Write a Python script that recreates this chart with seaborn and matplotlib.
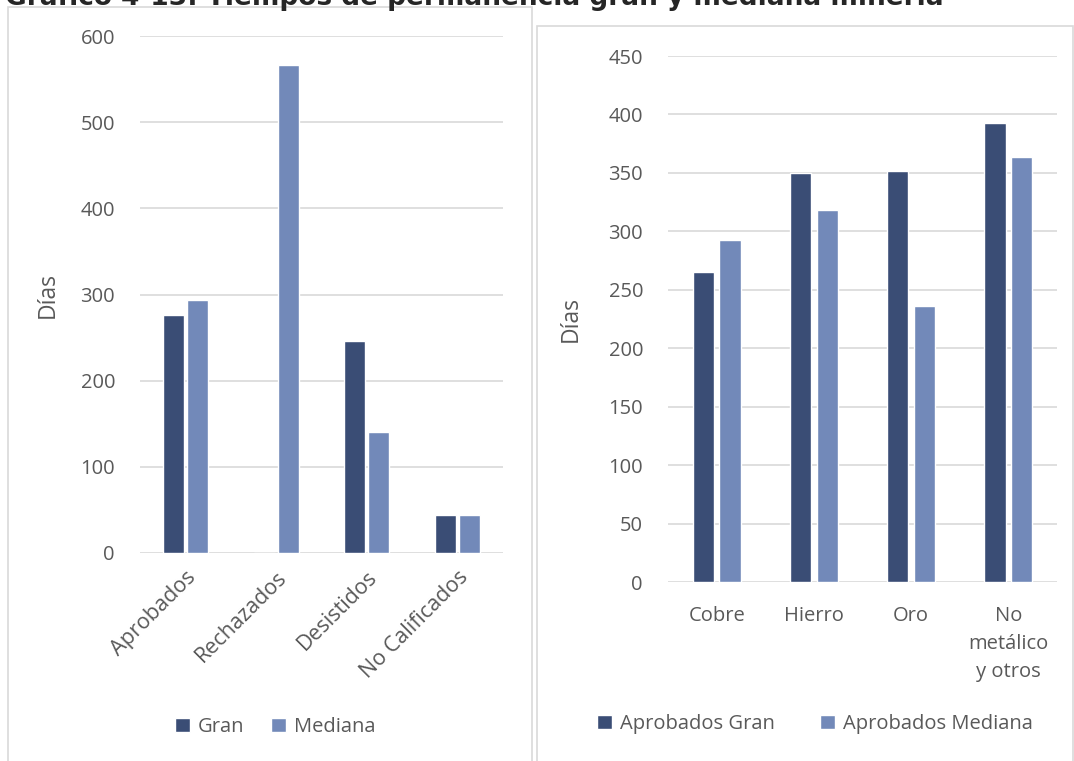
import numpy as np
import pandas as pd
import matplotlib
matplotlib.use("Agg")
import matplotlib.pyplot as plt
import seaborn as sns
from matplotlib.patches import Rectangle

# data
estados = ['Aprobados', 'Rechazados', 'Desistidos', 'No Calificados']
gran_estado = [276, 0, 246, 44]
mediana_estado = [294, 566, 141, 44]

minerales = ['Cobre', 'Hierro', 'Oro', 'No\nmetálico\ny otros']
aprob_gran = [265, 350, 352, 393]
aprob_mediana = [293, 318, 236, 364]

dark = '#3A4D75'
light = '#7289B9'
txt = '#595959'
grid = '#D9D9D9'

sns.set_theme(style='white')
plt.rcParams['font.family'] = ['Open Sans', 'DejaVu Sans']

df_left = pd.DataFrame({
    'cat': estados * 2,
    'dias': gran_estado + mediana_estado,
    'serie': ['Gran'] * 4 + ['Mediana'] * 4,
})
df_right = pd.DataFrame({
    'cat': minerales * 2,
    'dias': aprob_gran + aprob_mediana,
    'serie': ['Aprobados Gran'] * 4 + ['Aprobados Mediana'] * 4,
})

fig = plt.figure(figsize=(10.74, 7.61), dpi=100)
W, H = 1074, 761

def px_axes(x0, y0, x1, y1):
    return fig.add_axes([x0 / W, 1 - y1 / H, (x1 - x0) / W, (y1 - y0) / H])

# panel frames
fig.patches.append(Rectangle((8 / W, -0.01), (532 - 8) / W, 1 - 7 / H + 0.01,
                             transform=fig.transFigure, fill=False,
                             edgecolor=grid, lw=1.2))
fig.patches.append(Rectangle((537 / W, -0.01), (1073 - 537) / W, 1 - 26 / H + 0.01,
                             transform=fig.transFigure, fill=False,
                             edgecolor=grid, lw=1.2))

# title is cropped at the top in the source picture
fig.text(5 / W, 1 - 5 / H, 'Gráfico 4-13: Tiempos de permanencia gran y mediana minería',
         fontsize=19, fontweight='bold', family='DejaVu Sans', va='baseline', ha='left')

ax1 = px_axes(140, 36, 503, 553)
sns.barplot(data=df_left, x='cat', y='dias', hue='serie', ax=ax1,
            palette=[dark, light], width=0.53, gap=0.12, saturation=1)
ax1.set_ylim(0, 600)
ax1.set_yticks(range(0, 601, 100))

ax2 = px_axes(668, 56, 1057, 582)
sns.barplot(data=df_right, x='cat', y='dias', hue='serie', ax=ax2,
            palette=[dark, light], width=0.55, gap=0.2, saturation=1)
ax2.set_ylim(0, 450)
ax2.set_yticks(range(0, 451, 50))

for ax in (ax1, ax2):
    ax.yaxis.grid(True, color=grid, lw=1.2)
    ax.set_axisbelow(True)
    for s in ax.spines.values():
        s.set_visible(False)
    ax.tick_params(axis='both', length=0, labelsize=14.5, labelcolor=txt)
    ax.tick_params(axis='y', pad=18)
    ax.set_xlabel('')
    ax.set_ylabel('Días', fontsize=16.5, color=txt)

ax1.yaxis.set_label_coords(-0.22, 0.5)
ax2.yaxis.set_label_coords(-0.22, 0.5)

for lab in ax1.get_xticklabels():
    lab.set_rotation(45)
    lab.set_ha('right')
    lab.set_rotation_mode('anchor')
    lab.set_fontsize(15.5)
ax1.tick_params(axis='x', pad=10)
ax2.tick_params(axis='x', pad=17)
for lab in ax2.get_xticklabels():
    lab.set_linespacing(1.55)

sns.move_legend(ax1, 'center', bbox_to_anchor=(275 / W, 1 - 727 / H),
                bbox_transform=fig.transFigure, ncol=2, frameon=False, title=None,
                fontsize=14.5, handlelength=0.75, handleheight=0.75,
                handletextpad=0.4, columnspacing=1.3, labelcolor=txt)
sns.move_legend(ax2, 'center', bbox_to_anchor=(815 / W, 1 - 724 / H),
                bbox_transform=fig.transFigure, ncol=2, frameon=False, title=None,
                fontsize=14.5, handlelength=0.75, handleheight=0.75,
                handletextpad=0.4, columnspacing=2.2, labelcolor=txt)

fig.savefig('out.png', dpi=100)
